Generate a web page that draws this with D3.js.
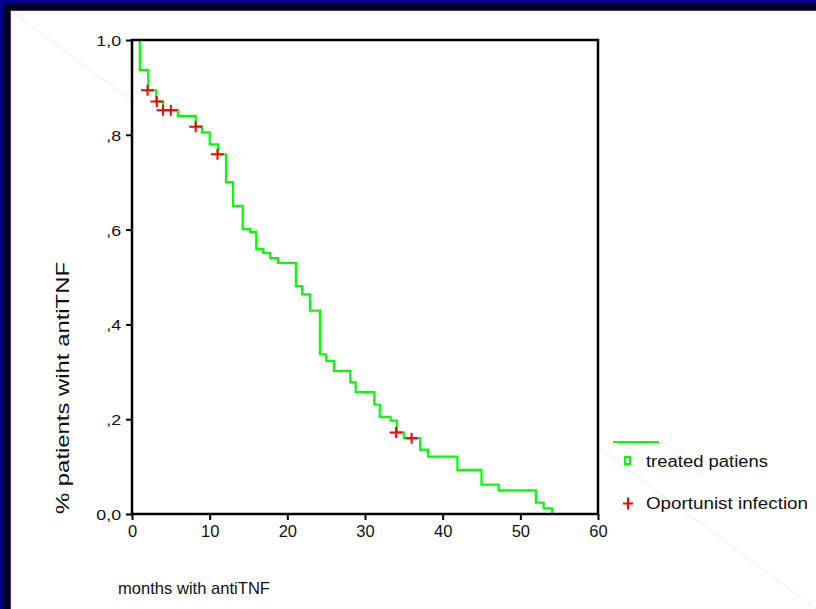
<!DOCTYPE html>
<html>
<head>
<meta charset="utf-8">
<script src="https://cdn.jsdelivr.net/npm/d3@7"></script>
<style>
  html, body { margin: 0; padding: 0; background: #fff; }
  svg { display: block; font-family: "Liberation Sans", Arial, sans-serif; }
</style>
</head>
<body>
<div id="container"></div>
<script>
// Kaplan-Meier steps: time (months) where the curve drops, and the value after the drop
const stepTimes = [0, 1.0, 2.1, 3.1, 4.0, 5.9, 8.2, 9.0, 10.0, 11.1, 12.1, 13.0, 14.25, 15.2, 16.0, 16.9,
  17.8, 18.8, 21.1, 21.9, 22.9, 24.2, 25.0, 26.0, 28.1, 28.8, 31.2, 31.9, 33.3, 34.1, 35.0,
  37.1, 38.1, 41.9, 45.0, 47.2, 52.0, 53.0, 54.1];
const stepSurv = [1.0, 0.937, 0.894, 0.870, 0.852, 0.840, 0.818, 0.805, 0.780, 0.759, 0.700, 0.650, 0.601, 0.595, 0.559, 0.551,
  0.540, 0.530, 0.481, 0.4635, 0.429, 0.337, 0.323, 0.302, 0.278, 0.257, 0.231, 0.205, 0.197, 0.172, 0.160,
  0.136, 0.121, 0.093, 0.062, 0.050, 0.024, 0.012, 0.0];

// censored points (Oportunist infection)
const censorTimes = [2.0, 3.2, 4.0, 5.0, 8.2, 11.0, 34.0, 36.0];
const censorSurv = [0.894, 0.870, 0.852, 0.852, 0.817, 0.759, 0.172, 0.160];

const xTicks = [0, 10, 20, 30, 40, 50, 60];
const yTicks = [0, 0.2, 0.4, 0.6, 0.8, 1.0];
const legendLabels = ["treated patiens", "Oportunist infection"];

const W = 816, H = 609;
const green = "#00ff00", red = "#ff0000";

const svg = d3.select("#container").append("svg")
  .attr("width", W)
  .attr("height", H);

// slide background: dark frame on top/left, white page
svg.append("rect").attr("width", W).attr("height", H).attr("fill", "#000088");
svg.append("rect").attr("x", 3).attr("y", 3).attr("width", W).attr("height", H).attr("fill", "#00001f");
svg.append("rect").attr("x", 10).attr("y", 10).attr("width", W).attr("height", H).attr("fill", "#3c3c6c");
svg.append("rect").attr("x", 11).attr("y", 11).attr("width", W).attr("height", H).attr("fill", "#ffffff");
svg.append("line")
  .attr("x1", 11).attr("y1", 11).attr("x2", W).attr("y2", H)
  .attr("stroke", "#ededed").attr("stroke-width", 1);

const mLeft = 132, mRight = 598, mTop = 40, mBottom = 514;

const x = d3.scaleLinear().domain([0, 60]).range([mLeft, mRight]);
const y = d3.scaleLinear().domain([0, 1]).range([mBottom, mTop]);

// plot area
svg.append("rect")
  .attr("x", mLeft).attr("y", mTop)
  .attr("width", mRight - mLeft).attr("height", mBottom - mTop)
  .attr("fill", "#fff");

function fmt(v) {
  const s = d3.format(".1f")(v).replace(".", ",");
  return (v > 0 && v < 1) ? s.slice(1) : s;
}

// y axis
const yAxis = svg.append("g")
  .attr("transform", `translate(${mLeft},0)`)
  .call(d3.axisLeft(y).tickValues(yTicks).tickSize(6).tickFormat(fmt));
yAxis.select(".domain").remove();
yAxis.selectAll("line").attr("stroke", "#000").attr("stroke-width", 2);
yAxis.selectAll("text")
  .attr("x", -9.5)
  .attr("dy", "0.36em")
  .attr("transform", "scale(1.15,1)")
  .attr("fill", "#111")
  .style("font-size", "15.5px")
  .style("font-family", "'Liberation Sans', Arial, sans-serif");

// x axis
const xAxis = svg.append("g")
  .attr("transform", `translate(0,${mBottom})`)
  .call(d3.axisBottom(x).tickValues(xTicks).tickSize(6).tickPadding(5));
xAxis.select(".domain").remove();
xAxis.selectAll("line").attr("stroke", "#000").attr("stroke-width", 2);
xAxis.selectAll("text")
  .attr("fill", "#111")
  .style("font-size", "16.5px")
  .style("font-family", "'Liberation Sans', Arial, sans-serif");

// survival curve
const data = stepTimes.map((t, i) => [t, stepSurv[i]]);
const line = d3.line()
  .x(d => x(d[0]))
  .y(d => y(d[1]))
  .curve(d3.curveStepAfter);

svg.append("path")
  .datum(data)
  .attr("fill", "none")
  .attr("stroke", green)
  .attr("stroke-width", 2.2)
  .attr("d", line);

// censor marks
const cw = 6.5, ch = 5.5;
svg.append("g").selectAll("path")
  .data(censorTimes.map((t, i) => [t, censorSurv[i]]))
  .enter().append("path")
  .attr("d", d => {
    const cx = x(d[0]), cy = y(d[1]);
    return `M${cx - cw},${cy}H${cx + cw}M${cx},${cy - ch}V${cy + ch}`;
  })
  .attr("stroke", red)
  .attr("stroke-width", 2)
  .attr("fill", "none");

// frame
svg.append("rect")
  .attr("x", mLeft).attr("y", mTop)
  .attr("width", mRight - mLeft).attr("height", mBottom - mTop)
  .attr("fill", "none")
  .attr("stroke", "#000")
  .attr("stroke-width", 2.5);

// axis titles
svg.append("text")
  .attr("transform", "translate(69,514) rotate(-90)")
  .attr("textLength", 252)
  .attr("lengthAdjust", "spacingAndGlyphs")
  .attr("fill", "#111")
  .style("font-size", "18px")
  .text("% patients wiht antiTNF");

svg.append("text")
  .attr("x", 118).attr("y", 594)
  .attr("textLength", 152)
  .attr("lengthAdjust", "spacingAndGlyphs")
  .attr("fill", "#111")
  .style("font-size", "17px")
  .text("months with antiTNF");

// legend
const lg = svg.append("g");
lg.append("line")
  .attr("x1", 613).attr("x2", 659).attr("y1", 442).attr("y2", 442)
  .attr("stroke", green).attr("stroke-width", 2);
lg.append("rect")
  .attr("x", 625).attr("y", 457).attr("width", 5).attr("height", 7)
  .attr("fill", "#fff").attr("stroke", green).attr("stroke-width", 2);
lg.append("path")
  .attr("d", "M623,503.5H633M628,497.5V509.5")
  .attr("stroke", red).attr("stroke-width", 2);
lg.selectAll("text")
  .data(legendLabels)
  .enter().append("text")
  .attr("x", 646)
  .attr("y", (d, i) => i === 0 ? 467 : 509)
  .attr("textLength", (d, i) => i === 0 ? 122 : 162)
  .attr("lengthAdjust", "spacingAndGlyphs")
  .attr("fill", "#111")
  .style("font-size", "16px")
  .text(d => d);
</script>
</body>
</html>
